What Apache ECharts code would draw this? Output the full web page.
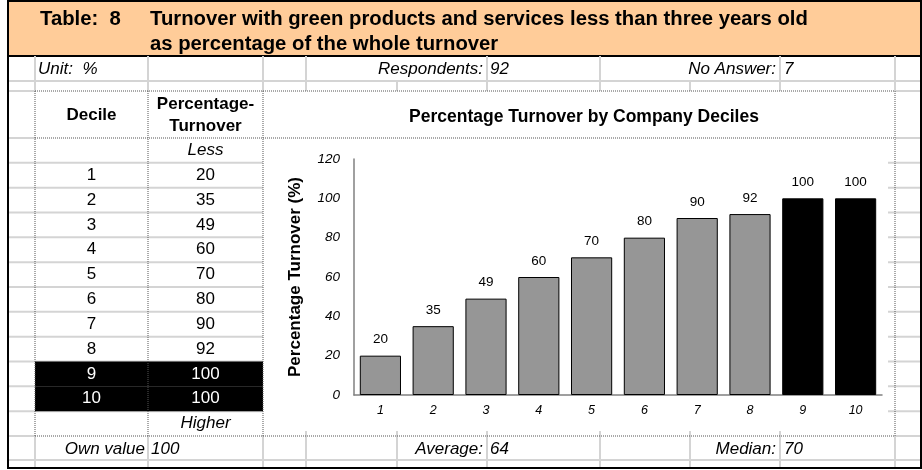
<!DOCTYPE html>
<html>
<head>
<meta charset="utf-8">
<script src="https://cdn.jsdelivr.net/npm/echarts@6/dist/echarts.min.js"></script>
<style>
  html, body { margin: 0; padding: 0; background: #fff; }
  #chart { width: 922px; height: 470px; }
</style>
</head>
<body>
<div id="chart"></div>
<script>
// ---- data ----
const deciles = ['1', '2', '3', '4', '5', '6', '7', '8', '9', '10'];
const turnover = [20, 35, 49, 60, 70, 80, 90, 92, 100, 100];
const yTicks = [0, 20, 40, 60, 80, 100, 120];
const tableNo = '8';
const titleLine1 = 'Turnover with green products and services less than three years old';
const titleLine2 = 'as percentage of the whole turnover';
const chartTitle = 'Percentage Turnover by Company Deciles';
const yAxisTitle = 'Percentage Turnover (%)';
const unitText = '%';
const respondents = 92;
const noAnswer = 7;
const ownValue = 100;
const averageValue = 64;
const medianValue = 70;

// ---- layout helpers ----
const FONT = '"Liberation Sans", Arial, sans-serif';
const GRID = '#d4d4d4';
const DOT = '#555555';
const els = [];
function line(x1, y1, x2, y2, stroke, w, dash) {
  els.push({ type: 'line', silent: true,
    shape: { x1, y1, x2, y2 },
    style: { stroke, lineWidth: w, lineDash: dash || null } });
}
function rect(x, y, w, h, fill, stroke, lw) {
  els.push({ type: 'rect', silent: true, shape: { x, y, width: w, height: h },
    style: { fill, stroke: stroke || null, lineWidth: lw || 0 } });
}
function text(t, x, y, font, align, color) {
  els.push({ type: 'text', silent: true,
    style: { text: String(t), x, y, font, fill: color || '#000',
      align: align, verticalAlign: 'middle',
      textAlign: align, textVerticalAlign: 'middle' } });
}

const rowTop = 138, rowH = (436 - 138) / 12;
const cDec = (35 + 148) / 2, cVal = (148 + 263) / 2;

// title band
rect(8, 1, 913, 55, '#FFCC99', '#000', 2);
text('Table:  ' + tableNo, 40, 19, 'bold 20.3px ' + FONT, 'left');
text(titleLine1, 150, 19, 'bold 20.3px ' + FONT, 'left');
text(titleLine2, 150, 44, 'bold 20.3px ' + FONT, 'left');

// spreadsheet gridlines
line(8, 81, 921, 81, GRID, 2);
line(8, 460, 921, 460, GRID, 2);
line(8, 91, 35, 91, GRID, 2); line(895, 91, 921, 91, GRID, 2);
line(8, 138, 35, 138, GRID, 2); line(895, 138, 921, 138, GRID, 2);
line(8, 436, 35, 436, GRID, 2); line(895, 436, 921, 436, GRID, 2);
for (let i = 1; i < 12; i++) {
  const y = rowTop + i * rowH;
  line(8, y, 263, y, GRID, 2);
  line(888, y, 921, y, GRID, 2);
}
// vertical gridlines, unit row
[35, 148, 263, 306, 487, 600, 780, 895].forEach(x => line(x, 56, x, 91, GRID, 2));
[397, 690].forEach(x => line(x, 81, x, 91, GRID, 2));
// vertical gridlines, bottom rows
[35, 148, 263, 895].forEach(x => line(x, 436, x, 468, GRID, 2));
[306, 397, 487, 600, 690, 780].forEach(x => line(x, 431, x, 468, GRID, 2));

// highlighted rows (deciles matching own value)
turnover.forEach((v, i) => {
  if (v === ownValue) rect(35, rowTop + (i + 1) * rowH, 228, rowH, '#000');
});

// dotted cell borders
line(35, 91, 895, 91, DOT, 1, [1, 1]);
line(35, 138, 895, 138, DOT, 1, [1, 1]);
line(35, 436, 895, 436, DOT, 1, [1, 1]);
[35, 148, 263, 895].forEach(x => line(x, 91, x, 436, DOT, 1, [1, 1]));

// outer frame
line(8, 0, 8, 469, '#000', 2);
line(921, 0, 921, 469, '#000', 2);
line(8, 468, 921, 468, '#000', 2);

// info rows
const it = 'italic 17px ' + FONT;
text('Unit:  ' + unitText, 38, 69, it, 'left');
text('Respondents:', 483, 69, it, 'right');
text(respondents, 490, 69, it, 'left');
text('No Answer:', 776, 69, it, 'right');
text(noAnswer, 784, 69, it, 'left');
text('Own value', 145, 449, it, 'right');
text(ownValue, 151, 449, it, 'left');
text('Average:', 483, 449, it, 'right');
text(averageValue, 490, 449, it, 'left');
text('Median:', 776, 449, it, 'right');
text(medianValue, 784, 449, it, 'left');

// table
const hb = 'bold 17px ' + FONT, rg = '17px ' + FONT;
text('Decile', cDec, 115, hb, 'center');
text('Percentage-', cVal, 104, hb, 'center');
text('Turnover', cVal, 126, hb, 'center');
text('Less', cVal, rowTop + rowH / 2, it, 'center');
deciles.forEach((d, i) => {
  const y = rowTop + (i + 1) * rowH + rowH / 2;
  const col = turnover[i] === ownValue ? '#fff' : '#000';
  text(d, cDec, y, rg, 'center', col);
  text(turnover[i], cVal, y, rg, 'center', col);
});
text('Higher', cVal, rowTop + 11 * rowH + rowH / 2, it, 'center');

const chart = echarts.init(document.getElementById('chart'), null, { renderer: 'canvas' });
chart.setOption({
  animation: false,
  backgroundColor: '#fff',
  graphic: { elements: els },
  title: {
    text: chartTitle, left: 579, top: 103, textAlign: 'center',
    textStyle: { fontFamily: FONT, fontWeight: 'bold', fontSize: 17.5, color: '#000' }
  },
  grid: { left: 354, right: 40, top: 159, bottom: 75 },
  xAxis: {
    type: 'category', data: deciles,
    axisLine: { lineStyle: { color: '#808080', width: 1.5 } },
    axisTick: { show: false },
    axisLabel: { fontFamily: FONT, fontStyle: 'italic', fontSize: 12.5, color: '#000', margin: 9 }
  },
  yAxis: {
    type: 'value', min: yTicks[0], max: yTicks[yTicks.length - 1], interval: yTicks[1] - yTicks[0],
    name: yAxisTitle, nameLocation: 'middle', nameGap: 50,
    nameTextStyle: { fontFamily: FONT, fontWeight: 'bold', fontSize: 17, color: '#000' },
    axisLine: { show: true, lineStyle: { color: '#808080', width: 1.5 } },
    axisTick: { show: false },
    splitLine: { show: false },
    axisLabel: { fontFamily: FONT, fontStyle: 'italic', fontSize: 13.5, color: '#000', margin: 14 }
  },
  series: [{
    type: 'bar',
    barCategoryGap: '22%',
    data: turnover.map(v => ({
      value: v,
      itemStyle: { color: v === ownValue ? '#000' : '#969696', borderColor: '#000', borderWidth: 1 }
    })),
    label: { show: true, position: 'top', distance: 9, fontFamily: FONT, fontSize: 13.5, color: '#000' }
  }]
});
</script>
</body>
</html>
